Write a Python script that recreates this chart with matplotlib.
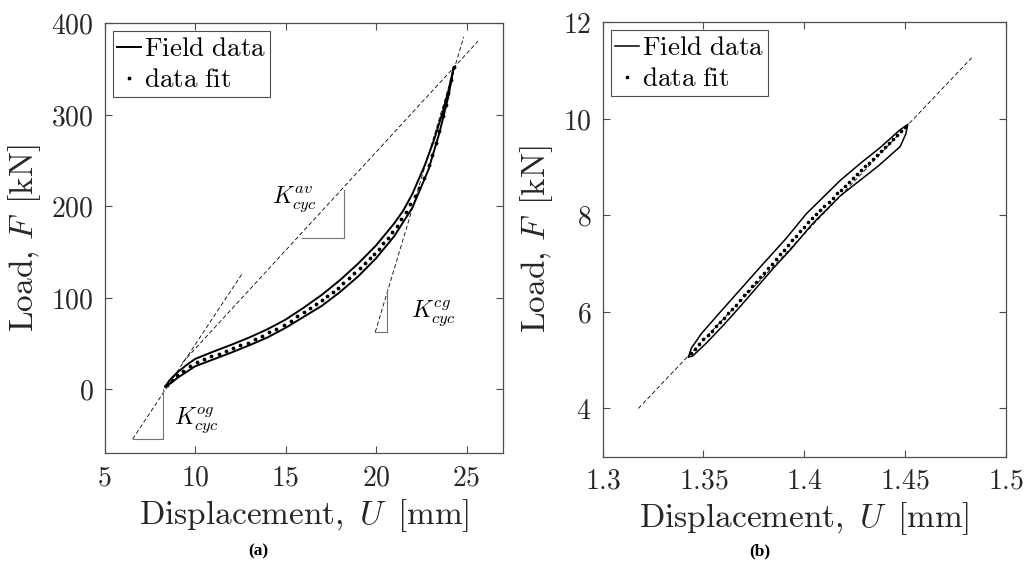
import matplotlib
matplotlib.use("Agg")
import matplotlib.pyplot as plt
from matplotlib.ticker import FuncFormatter

plt.rcParams['mathtext.fontset'] = 'cm'
plt.rcParams['font.family'] = ['DejaVu Serif']

# ---------------- (a) datos: lazo completo ----------------
up_u = [8.35, 8.6, 9.0, 9.5, 10.0, 11.0, 12.0, 13.0, 14.0, 15.0, 16.0, 17.0, 18.0,
        19.0, 20.0, 21.0, 21.5, 22.0, 22.7, 23.2, 23.7, 24.0, 24.3]
up_f = [3, 10, 18, 26, 33, 41, 48.5, 56.5, 65.5, 76, 89, 103, 119,
        137, 157, 181, 195, 213, 245, 272, 304, 326, 352]
lo_u = [24.3, 24.0, 23.5, 22.9, 22.0, 21.0, 20.0, 19.0, 18.0, 17.0, 16.0, 15.0,
        14.0, 13.0, 12.0, 11.0, 10.0, 9.5, 9.0, 8.7, 8.35]
lo_f = [352, 320, 280, 240, 198, 167, 143, 123, 106, 91, 79, 67,
        56.5, 48, 40, 32.5, 25, 18.5, 12, 7, 3]

fit_u = [8.45, 8.7, 9.0, 9.35, 9.7, 10.1, 10.5, 10.9, 11.3, 11.7, 12.1, 12.5, 12.9,
         13.3, 13.7, 14.1, 14.5, 14.9, 15.3, 15.65, 16.0, 16.35, 16.7, 17.0, 17.3,
         17.6, 17.9, 18.2, 18.5, 18.8, 19.1, 19.4, 19.65, 19.9, 20.15, 20.4, 20.65,
         20.9, 21.15, 21.4, 21.65, 21.9, 22.15, 22.4, 22.65, 22.9, 23.1, 23.3, 23.5,
         23.7, 23.85, 24.0, 24.15, 24.3]
fit_f = [5, 10, 15, 20, 25, 30, 33, 36, 39, 42, 45, 48, 51,
         54.5, 58, 62, 66, 70.5, 75, 79.5, 84, 88.5, 93, 97, 101.5,
         106, 111, 116, 121, 126.5, 132, 138, 143, 148, 153.5, 159.5, 165.5,
         171.5, 178.5, 186, 194, 202, 211, 220, 230.5, 245, 256, 268.5, 282,
         298, 310, 323, 337.5, 352]

# rectas de rigidez (extremos) y triangulos
k_og_u = [6.55, 12.63]
k_og_f = [-54.5, 127]
k_av_u = [9.3, 25.63]
k_av_f = [29, 380]
k_cg_u = [19.96, 24.85]
k_cg_f = [62.5, 385]
tri_og_u = [6.55, 8.23, 8.23]
tri_og_f = [-54.5, -54.5, 0]
tri_av_u = [15.92, 18.25, 18.25]
tri_av_f = [165, 165, 218]
tri_cg_u = [19.96, 20.63, 20.63]
tri_cg_f = [62.5, 62.5, 109]

# ---------------- (b) datos: lazo pequeño ----------------
b_up_u = [1.3426, 1.3440, 1.3490, 1.358, 1.368, 1.378, 1.391, 1.401, 1.4178,
          1.4277, 1.4376, 1.4475, 1.4513]
b_up_f = [5.07, 5.25, 5.55, 5.98, 6.45, 6.92, 7.52, 8.03, 8.72,
          9.07, 9.40, 9.77, 9.88]
b_lo_u = [1.4513, 1.4503, 1.4475, 1.4367, 1.4178, 1.404, 1.393, 1.3846, 1.368,
          1.3598, 1.3516, 1.3445, 1.3426]
b_lo_f = [9.88, 9.68, 9.42, 9.02, 8.40, 7.82, 7.28, 6.90, 6.10,
          5.72, 5.36, 5.08, 5.07]

b_fit_u = [1.344, 1.346, 1.348, 1.350, 1.352, 1.354, 1.356, 1.358, 1.360, 1.362,
           1.364, 1.366, 1.368, 1.370, 1.372, 1.374, 1.376, 1.378, 1.380, 1.382,
           1.384, 1.386, 1.388, 1.390, 1.392, 1.394, 1.396, 1.398, 1.400, 1.402,
           1.404, 1.406, 1.408, 1.410, 1.412, 1.414, 1.416, 1.418, 1.420, 1.422,
           1.424, 1.426, 1.428, 1.430, 1.432, 1.434, 1.436, 1.438, 1.440, 1.442,
           1.444, 1.446, 1.448, 1.450]
b_fit_f = [5.15, 5.24, 5.34, 5.43, 5.52, 5.61, 5.70, 5.79, 5.88, 5.97,
           6.06, 6.15, 6.24, 6.34, 6.43, 6.53, 6.62, 6.72, 6.81, 6.91,
           7.00, 7.10, 7.19, 7.29, 7.38, 7.48, 7.57, 7.67, 7.76, 7.85,
           7.94, 8.03, 8.11, 8.20, 8.28, 8.36, 8.45, 8.53, 8.61, 8.69,
           8.77, 8.85, 8.93, 9.01, 9.09, 9.17, 9.25, 9.33, 9.41, 9.49,
           9.57, 9.66, 9.74, 9.82]
b_k_u = [1.3177, 1.483]
b_k_f = [4.0, 11.26]

fig = plt.figure(figsize=(10.3, 5.79), dpi=100)
ax1 = fig.add_axes([0.1015, 0.2171, 0.3866, 0.7432])
ax2 = fig.add_axes([0.5851, 0.2112, 0.3916, 0.7508])

gray = '0.3'
dash = dict(color='k', lw=0.6, dashes=(5, 3))
tri = dict(color='0.45', lw=0.8)

# Grafico (a)
ax1.plot(up_u + lo_u, up_f + lo_f, color='k', lw=1.4, label=r'$\mathrm{Field\ data}$')
ax1.plot(fit_u, fit_f, ls='none', marker='.', ms=3.5, color='k',
         label=r'$\mathrm{data\ fit}$')
for uu, ff in [(k_og_u, k_og_f), (k_av_u, k_av_f), (k_cg_u, k_cg_f)]:
    ax1.plot(uu, ff, **dash)
for uu, ff in [(tri_og_u, tri_og_f), (tri_av_u, tri_av_f), (tri_cg_u, tri_cg_f)]:
    ax1.plot(uu, ff, **tri)
ax1.text(15.47, 207, r'$K_{cyc}^{av}$', fontsize=17, ha='center', va='center')
ax1.text(23.16, 83, r'$K_{cyc}^{cg}$', fontsize=17, ha='center', va='center')
ax1.text(10.08, -34, r'$K_{cyc}^{og}$', fontsize=17, ha='center', va='center')
ax1.set_xlim(5, 27)
ax1.set_ylim(-70, 400)
ax1.set_xticks([5, 10, 15, 20, 25])
ax1.set_yticks([0, 100, 200, 300, 400])

# Grafico (b)
ax2.plot(b_up_u + b_lo_u, b_up_f + b_lo_f, color='k', lw=1.1, label=r'$\mathrm{Field\ data}$')
ax2.plot(b_fit_u, b_fit_f, ls='none', marker='.', ms=3.2, color='k',
         label=r'$\mathrm{data\ fit}$')
ax2.plot(b_k_u, b_k_f, **dash)
ax2.set_xlim(1.3, 1.5)
ax2.set_ylim(3, 12)
ax2.set_xticks([1.3, 1.35, 1.4, 1.45, 1.5])
ax2.set_yticks([4, 6, 8, 10, 12])

fmt = FuncFormatter(lambda v, p: f'${v:g}$')
for ax in (ax1, ax2):
    ax.xaxis.set_major_formatter(fmt)
    ax.yaxis.set_major_formatter(fmt)
    ax.tick_params(direction='in', top=True, right=True, length=5, width=0.8,
                   color=gray, labelcolor='0.15', labelsize=20, pad=8)
    for s in ax.spines.values():
        s.set_color(gray)
        s.set_linewidth(0.9)
    ax.set_xlabel(r'$\mathrm{Displacement,}\ U\ \,[\mathrm{mm}]$', fontsize=24,
                  color='0.15', labelpad=4)
    ax.set_ylabel(r'$\mathrm{Load,}\,F\ \,[\mathrm{kN}]$', fontsize=24,
                  color='0.15', labelpad=6)
    leg = ax.legend(loc='upper left', fontsize=19.5, numpoints=1, handlelength=0.9,
                    handletextpad=0.1, labelspacing=0.15, borderpad=0.15,
                    borderaxespad=0.3, fancybox=False, framealpha=1,
                    edgecolor=gray)
    leg.get_frame().set_linewidth(0.8)

fig.text(0.2505, 0.048, '(a)', fontsize=12.5, fontweight='bold',
         family=['Liberation Serif', 'DejaVu Serif'], ha='center', va='center')
fig.text(0.738, 0.048, '(b)', fontsize=12.5, fontweight='bold',
         family=['Liberation Serif', 'DejaVu Serif'], ha='center', va='center')

fig.savefig('out.png', dpi=100)
